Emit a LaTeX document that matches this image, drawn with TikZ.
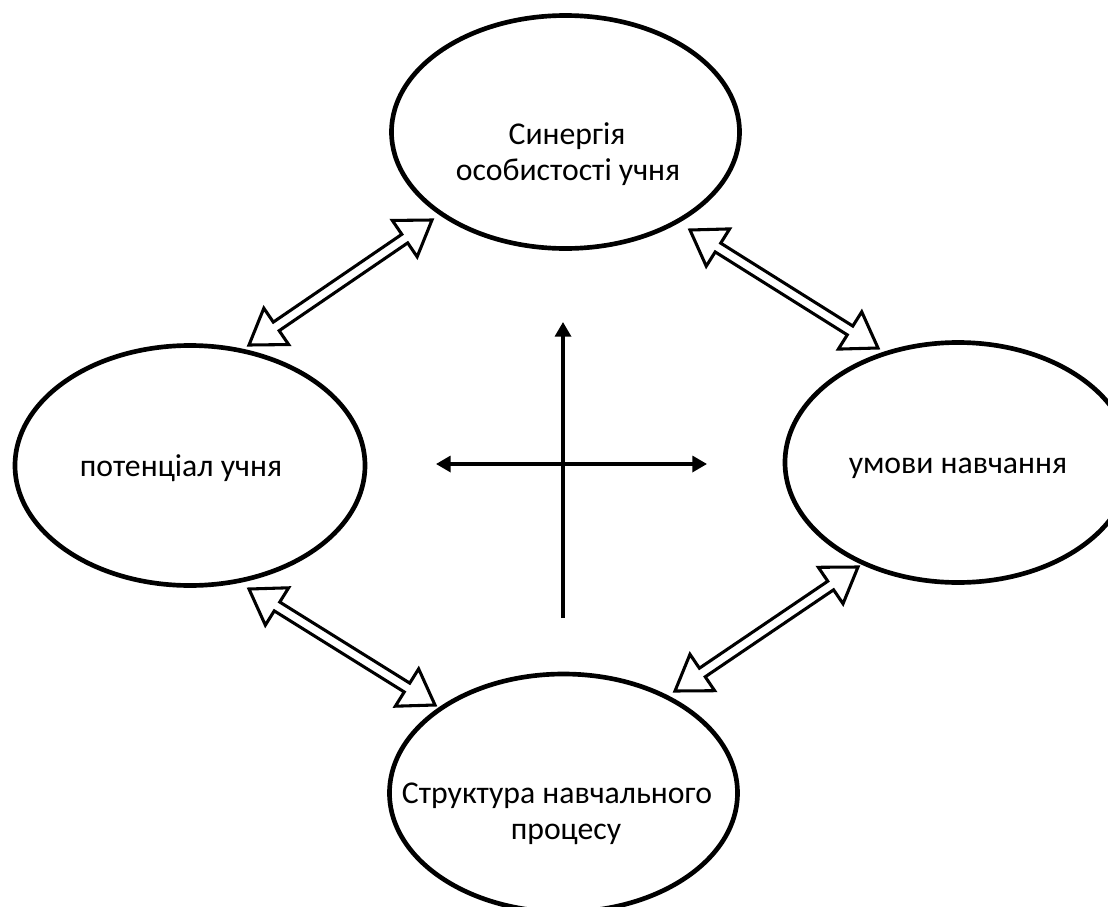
\documentclass[tikz,border=0pt]{standalone}
\usepackage{fontspec}
\setmainfont{Carlito}
\usetikzlibrary{shapes.geometric,arrows.meta,calc}
\tikzset{
  ell/.style={draw, ellipse, line width=3.5pt, inner sep=0pt, outer sep=0pt},
  lbl/.style={anchor=base, inner sep=0pt, font=\fontsize{23.8}{28}\selectfont},
  harrow/.style={draw, line width=2.3pt, line join=miter, fill=white},
  crossarrow/.style={line width=2.5pt},
  tip/.style={-{Triangle[length=11pt,width=12pt]}},
  tips/.style={{Triangle[length=11pt,width=12pt]}-{Triangle[length=11pt,width=12pt]}},
}
\newcommand\HAhl{24.75pt}
\newcommand\HAhw{16.5pt}
\newcommand\HAsw{3.9pt}
\newcommand\hollowarrow[2]{%
  \draw[harrow] (#1)
    -- ($(#1)!\HAhl!(#2)!\HAhw!90:(#2)$)
    -- ($(#1)!\HAhl!(#2)!\HAsw!90:(#2)$)
    -- ($(#2)!\HAhl!(#1)!\HAsw!-90:(#1)$)
    -- ($(#2)!\HAhl!(#1)!\HAhw!-90:(#1)$)
    -- (#2)
    -- ($(#2)!\HAhl!(#1)!\HAhw!90:(#1)$)
    -- ($(#2)!\HAhl!(#1)!\HAsw!90:(#1)$)
    -- ($(#1)!\HAhl!(#2)!\HAsw!-90:(#2)$)
    -- ($(#1)!\HAhl!(#2)!\HAhw!-90:(#2)$)
    -- cycle;}
\begin{document}
\begin{tikzpicture}[x=0.75pt, y=-0.75pt]
  \useasboundingbox (0,0) rectangle (1108,907);
  \clip (0,0) rectangle (1108,907);
  % ellipses
  \node[ell, minimum width=261pt, minimum height=174.75pt] (top) at (565.5,132) {};
  \node[ell, minimum width=262.5pt, minimum height=180pt] (left) at (190,465.5) {};
  \node[ell, minimum width=259.5pt, minimum height=180pt] (right) at (958,462.5) {};
  \node[ell, minimum width=261pt, minimum height=178.5pt] (bottom) at (563.5,793) {};
  % texts
  \node[lbl] (topa) at (567,144) {Синергія};
  \node[lbl] (topb) at (568,180) {особистості учня};
  \node[lbl] (lefta) at (181,476) {потенціал учня};
  \node[lbl] (righta) at (958,473) {умови навчання};
  \node[lbl] (bottoma) at (557,803) {Структура навчального};
  \node[lbl] (bottomb) at (566,839) {процесу};
  % hollow double arrows
  \coordinate (a1s) at (249,345);
  \coordinate (a1e) at (432,220);
  \coordinate (a2s) at (690,230);
  \coordinate (a2e) at (878,348);
  \coordinate (a3s) at (249,589);
  \coordinate (a3e) at (435,705);
  \coordinate (a4s) at (675,691);
  \coordinate (a4e) at (858,567);
  \hollowarrow{a1s}{a1e}
  \hollowarrow{a2s}{a2e}
  \hollowarrow{a3s}{a3e}
  \hollowarrow{a4s}{a4e}
  % central cross
  \coordinate (vb) at (563,618);
  \coordinate (vt) at (563,322);
  \coordinate (hl) at (436,464);
  \coordinate (hr) at (707,464);
  \draw[crossarrow, tip] (vb) -- (vt);
  \draw[crossarrow, tips] (hl) -- (hr);
\end{tikzpicture}
\end{document}
